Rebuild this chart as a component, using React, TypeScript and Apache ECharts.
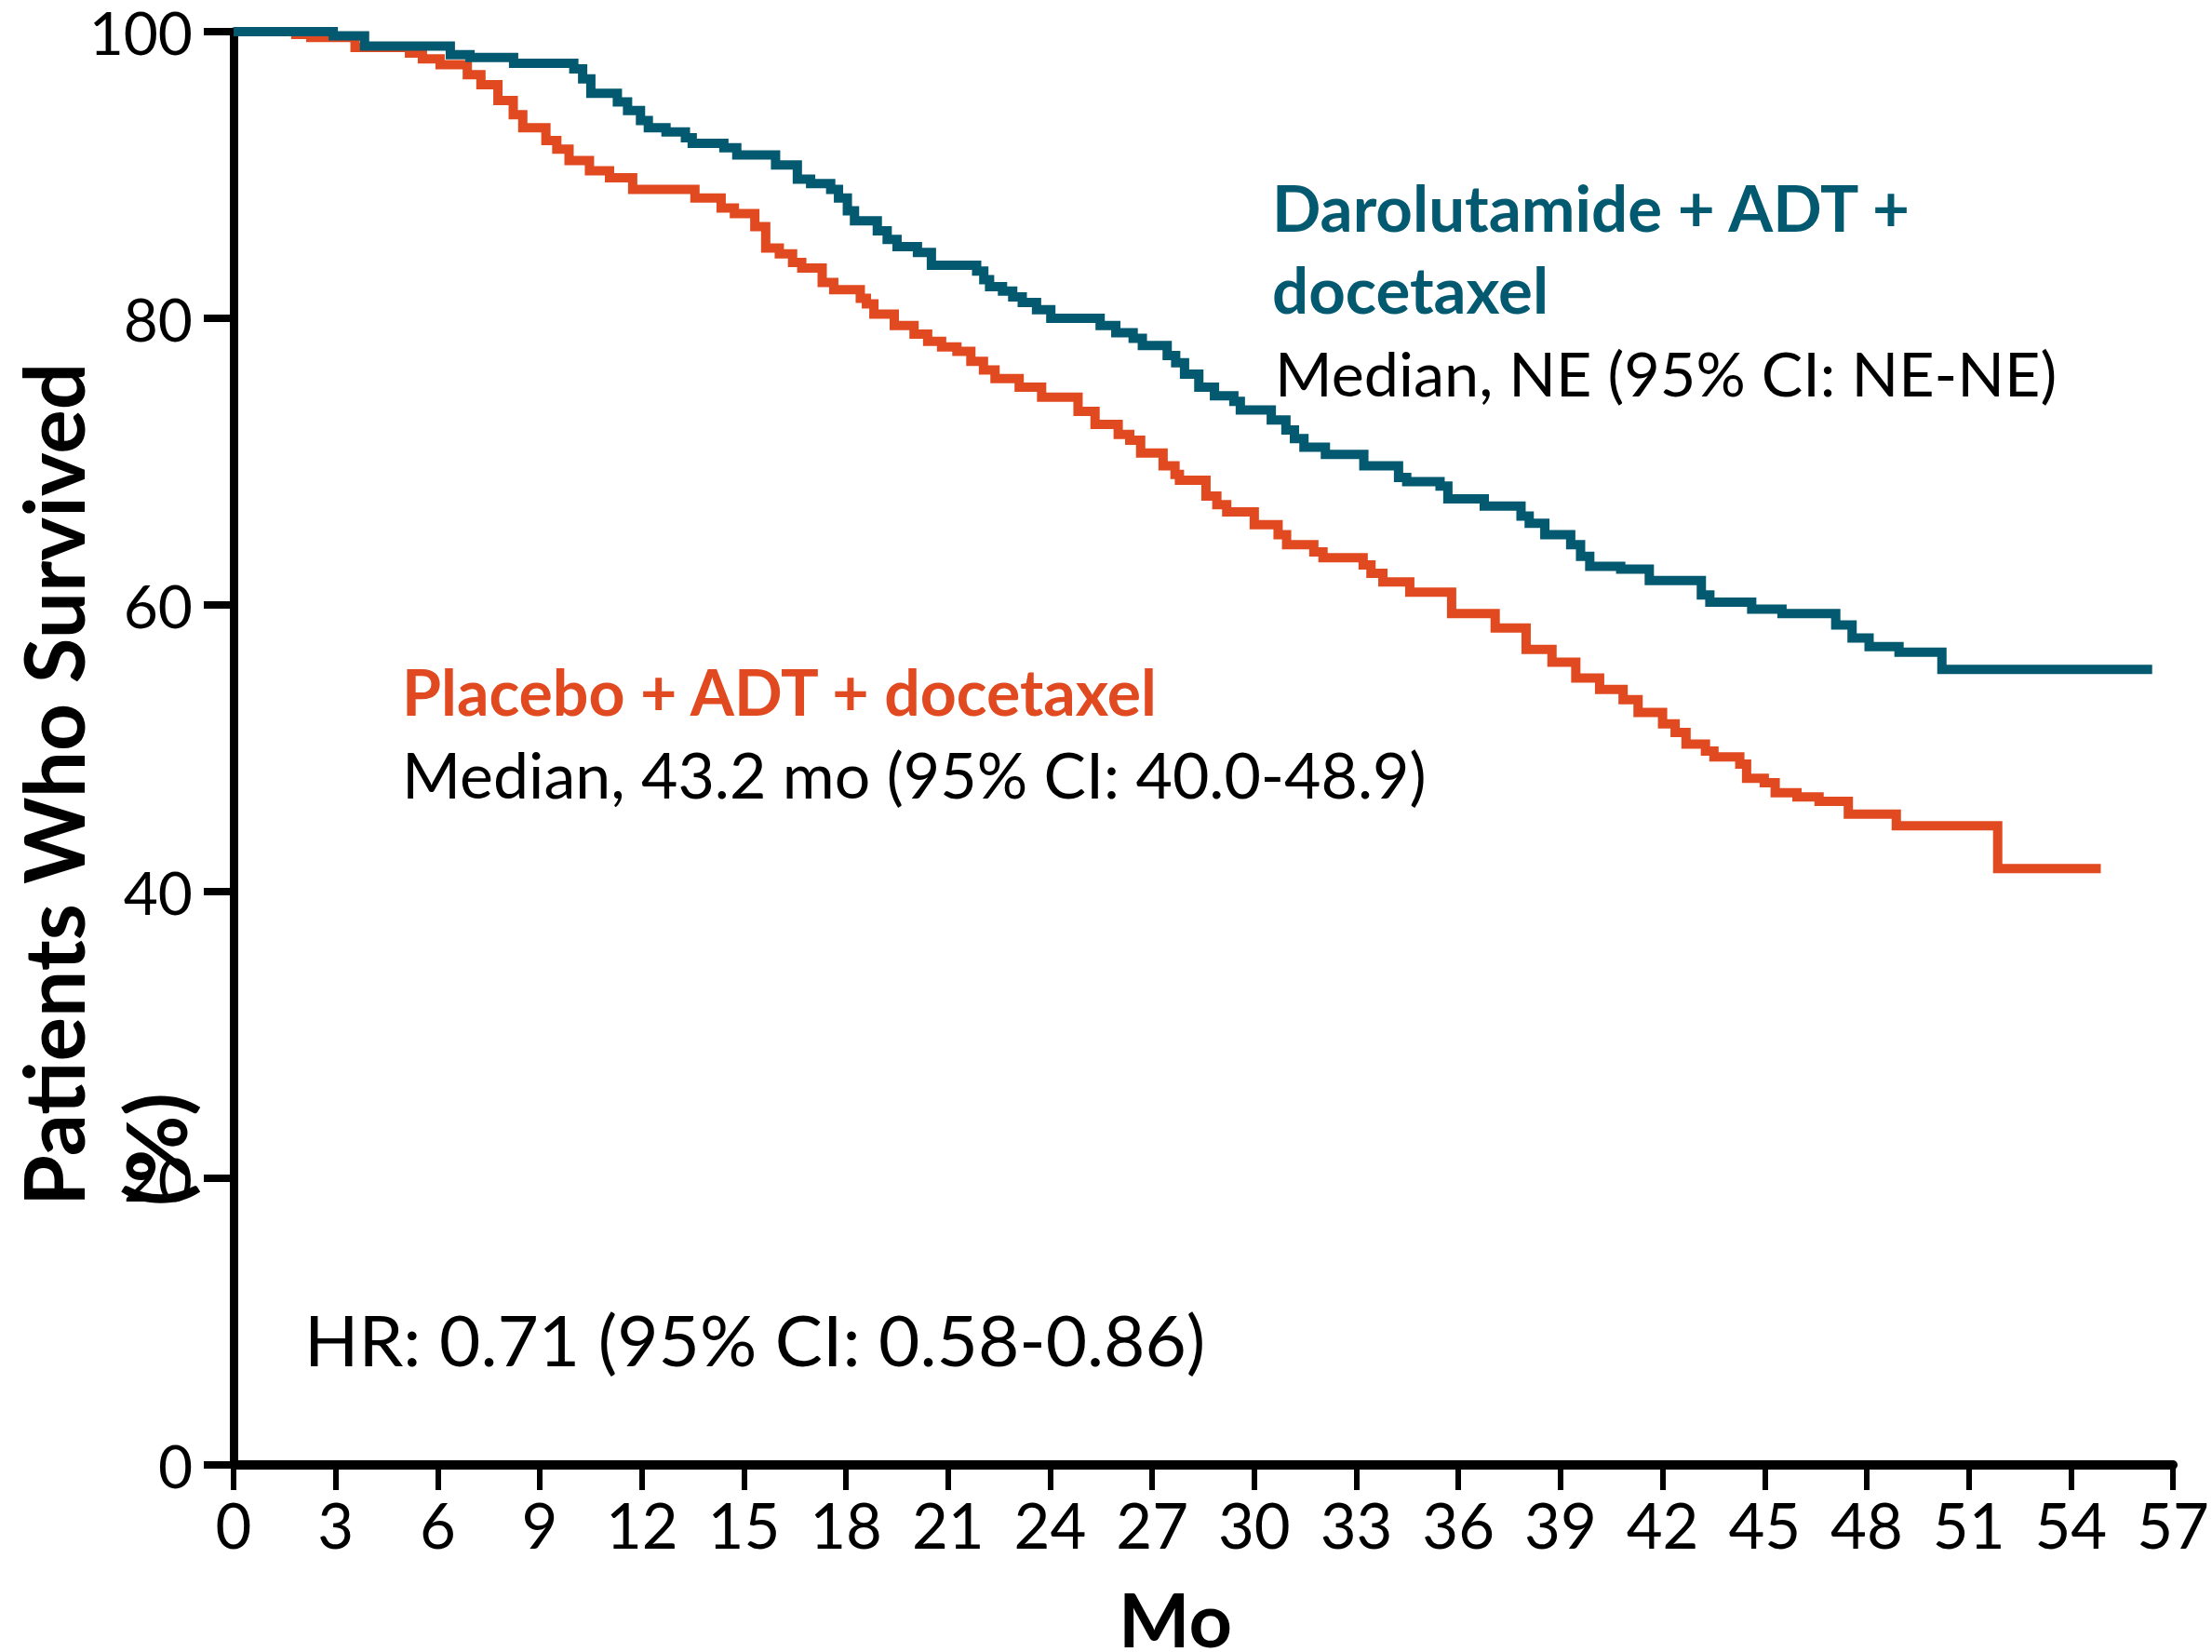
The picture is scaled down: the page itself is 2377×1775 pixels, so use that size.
import React, { useEffect, useRef } from "react";
import * as echarts from "echarts";

const WIDTH = 2377;
const HEIGHT = 1775;

// Kaplan-Meier steps: month at which survival changes, and survival (%) from that month on
const darolutamideMonths = [
  0, 2.93, 3.85, 6.37, 6.95, 8.23, 10.0, 10.26, 10.5, 11.28, 11.58, 11.96, 12.19, 12.71, 13.28,
  13.48, 14.41, 14.79, 15.93, 16.57, 16.96, 17.55, 17.78, 18.04, 18.25, 18.92, 19.21, 19.5,
  20.1, 20.51, 21.84, 22.05, 22.22, 22.6, 22.9, 23.18, 23.6, 24.02, 25.47, 25.93, 26.44, 26.71,
  27.44, 27.69, 27.95, 28.37, 28.83, 29.4, 29.59, 30.5, 30.93, 31.18, 31.46, 32.09, 33.22,
  34.24, 34.48, 35.46, 35.69, 36.76, 37.84, 38.08, 38.54, 39.3, 39.59, 39.86, 40.77, 41.61,
  43.14, 43.39, 44.62, 45.51, 47.09, 47.57, 48.07, 48.95, 50.21, 56.39,
];
const darolutamideSurvival = [
  100, 99.7, 99.0, 98.4, 98.2, 97.8, 97.4, 96.7, 95.7, 95.1, 94.5, 93.8, 93.3, 93.0, 92.6,
  92.2, 91.9, 91.4, 90.7, 89.7, 89.4, 89.0, 88.4, 87.5, 86.8, 86.1, 85.5, 85.0,
  84.6, 83.7, 83.3, 82.7, 82.2, 81.9, 81.5, 81.1, 80.6, 80.0, 79.5, 79.0, 78.6, 78.1,
  77.4, 76.9, 76.1, 75.2, 74.6, 74.2, 73.6, 72.9, 72.2, 71.6, 71.0, 70.5, 69.7,
  68.9, 68.6, 68.3, 67.4, 66.9, 66.2, 65.7, 64.9, 64.2, 63.4, 62.7, 62.5, 61.7,
  60.7, 60.2, 59.7, 59.4, 58.6, 57.7, 57.1, 56.7, 55.5, 55.5,
];

const placeboMonths = [
  0, 1.83, 2.27, 3.57, 5.17, 5.55, 6.07, 6.87, 7.27, 7.77, 8.22, 8.5, 9.18, 9.5, 9.86, 10.46,
  11.05, 11.73, 13.56, 14.33, 14.72, 15.32, 15.64, 16.04, 16.43, 16.7, 17.3, 17.64, 18.42,
  18.6, 18.82, 19.42, 20.0, 20.4, 20.81, 21.26, 21.67, 22.04, 22.38, 23.09, 23.75, 24.82,
  25.32, 26.0, 26.34, 26.66, 27.32, 27.67, 27.8, 28.58, 28.9, 29.19, 30.0, 30.7, 30.95,
  31.75, 32.02, 33.2, 33.43, 33.78, 34.57, 35.8, 37.08, 37.99, 38.75, 39.45, 40.15, 40.84,
  41.28, 42.0, 42.37, 42.69, 43.26, 43.51, 44.27, 44.47, 44.99, 45.31, 45.95, 46.6, 47.46,
  48.87, 51.85, 54.88,
];
const placeboSurvival = [
  100, 99.8, 99.6, 98.9, 98.5, 98.1, 97.7, 97.0, 96.3, 95.2, 94.2, 93.3, 92.4, 91.8, 91.0, 90.3,
  89.8, 89.0, 88.4, 87.7, 87.3, 86.4, 84.9, 84.5, 83.9, 83.5, 82.5, 82.0, 81.4,
  81.0, 80.3, 79.5, 78.9, 78.4, 78.0, 77.7, 77.0, 76.4, 75.8, 75.2, 74.5, 73.5,
  72.6, 71.9, 71.5, 70.6, 69.7, 69.1, 68.7, 67.6, 67.0, 66.5, 65.6, 64.9, 64.2,
  63.7, 63.3, 62.8, 62.2, 61.6, 60.9, 59.4, 58.4, 56.9, 56.0, 54.9, 54.1, 53.4,
  52.5, 51.7, 51.1, 50.3, 49.8, 49.4, 48.9, 47.9, 47.6, 46.9, 46.6, 46.3, 45.4,
  44.6, 41.6, 41.6,
];

const xAxisMax = 57;
const xAxisStep = 3;
const yAxisMax = 100;
const yAxisStep = 20;

const armLabels = {
  darolutamide: ["Darolutamide + ADT +", "docetaxel"],
  darolutamideMedian: "Median, NE (95% CI: NE-NE)",
  placebo: "Placebo + ADT + docetaxel",
  placeboMedian: "Median, 43.2 mo (95% CI: 40.0-48.9)",
  hazardRatio: "HR: 0.71 (95% CI: 0.58-0.86)",
};
const xTitle = "Mo";
const yTitleLines = ["Patients Who Survived", "(%)"];

const TEAL = "#03596f";
const ORANGE = "#e14a20";
const FONT = "Lato, 'Open Sans', sans-serif";
const NARROW_FONT = "'Liberation Sans Narrow', Lato, sans-serif";

const toPairs = (xs: number[], ys: number[]) => xs.map((x, i) => [x, ys[i]]);

export default function App() {
  const ref = useRef<HTMLDivElement>(null);

  useEffect(() => {
    if (!ref.current) return;
    const chart = echarts.init(ref.current, null, { renderer: "svg" });

    const text = (
      x: number,
      y: number,
      content: string,
      opts: {
        size: number;
        color?: string;
        bold?: boolean;
        align?: string;
        rotation?: number;
        lineHeight?: number;
      }
    ) => ({
      type: "text",
      x,
      y,
      rotation: opts.rotation ?? 0,
      z: 10,
      style: {
        text: content,
        fill: opts.color ?? "#000",
        fontFamily: FONT,
        fontSize: opts.size,
        fontWeight: opts.bold ? "bold" : "normal",
        textAlign: opts.align ?? "left",
        textVerticalAlign: "middle",
        lineHeight: opts.lineHeight ?? Math.round(opts.size * 1.1),
      },
    });

    chart.setOption({
      animation: false,
      backgroundColor: "#fff",
      grid: { left: 251, right: 42, top: 34, bottom: 201, containLabel: false },
      xAxis: {
        type: "value",
        min: 0,
        max: xAxisMax,
        interval: xAxisStep,
        splitLine: { show: false },
        axisLine: { show: true, lineStyle: { color: "#000", width: 10 } },
        axisTick: { show: true, length: 27, lineStyle: { color: "#000", width: 6 } },
        axisLabel: {
          color: "#000",
          fontFamily: NARROW_FONT,
          fontSize: 67,
          margin: 64,
          verticalAlign: "middle",
        },
      },
      yAxis: {
        type: "value",
        min: 0,
        max: yAxisMax,
        interval: yAxisStep,
        splitLine: { show: false },
        axisLine: { show: true, lineStyle: { color: "#000", width: 9 } },
        axisTick: { show: true, length: 32, lineStyle: { color: "#000", width: 8 } },
        axisLabel: { color: "#000", fontFamily: FONT, fontSize: 64, margin: 44, lineHeight: 56 },
      },
      series: [
        {
          name: "Placebo + ADT + docetaxel",
          type: "line",
          step: "end",
          showSymbol: false,
          data: toPairs(placeboMonths, placeboSurvival),
          lineStyle: { color: ORANGE, width: 10, join: "miter", cap: "butt" },
          z: 2,
        },
        {
          name: "Darolutamide + ADT + docetaxel",
          type: "line",
          step: "end",
          showSymbol: false,
          data: toPairs(darolutamideMonths, darolutamideSurvival),
          lineStyle: { color: TEAL, width: 10, join: "miter", cap: "butt" },
          z: 3,
        },
      ],
      graphic: [
        text(1367, 222, armLabels.darolutamide[0], { size: 69, color: TEAL, bold: true }),
        text(1367, 310, armLabels.darolutamide[1], { size: 69, color: TEAL, bold: true }),
        text(1370, 400, armLabels.darolutamideMedian, { size: 66.5 }),
        text(432, 742, armLabels.placebo, { size: 68, color: ORANGE, bold: true }),
        text(432, 831, armLabels.placeboMedian, { size: 68 }),
        text(327, 1438, armLabels.hazardRatio, { size: 76.5 }),
        text(1263, 1738, xTitle, { size: 81, bold: true, align: "center", lineHeight: 62 }),
        text(56, 1296, yTitleLines[0], { size: 89, bold: true, rotation: Math.PI / 2 }),
        text(166, 1296, yTitleLines[1], { size: 89, bold: true, rotation: Math.PI / 2 }),
      ],
    });

    return () => chart.dispose();
  }, []);

  return (
    <div
      ref={ref}
      style={{ position: "fixed", left: 0, top: 0, width: WIDTH, height: HEIGHT, background: "#fff" }}
    />
  );
}
